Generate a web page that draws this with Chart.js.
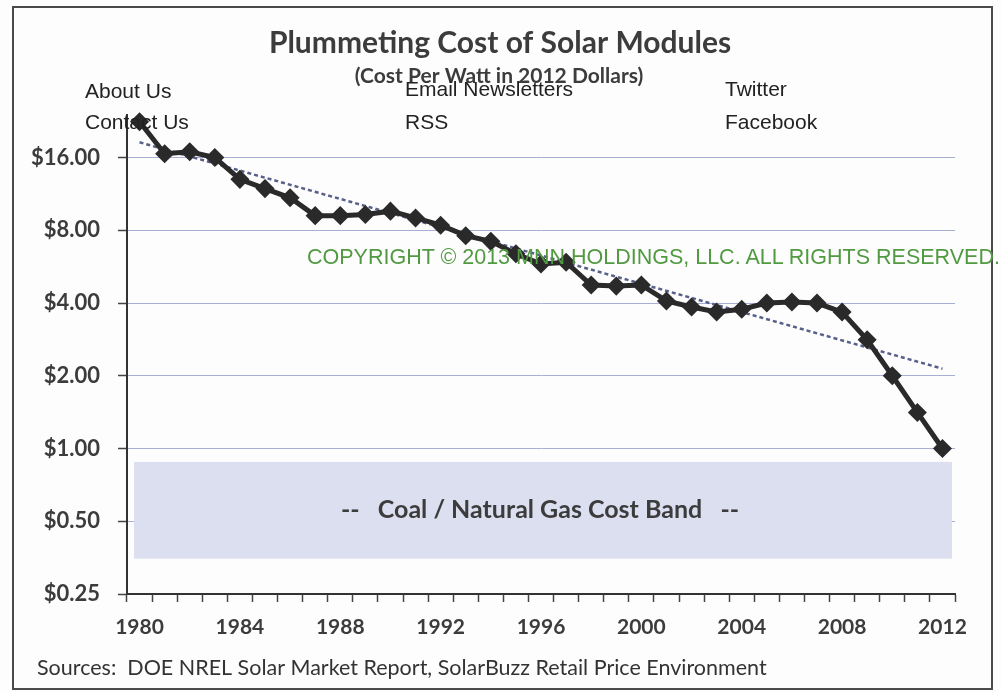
<!DOCTYPE html>
<html>
<head>
<meta charset="utf-8">
<title>Plummeting Cost of Solar Modules</title>
<script src="https://cdn.jsdelivr.net/npm/chart.js@4/dist/chart.umd.min.js"></script>
<style>
  body { margin: 0; background: #fff; }
  #wrap { position: relative; width: 1001px; height: 692px; background: #fdfdfd; }
  #chart { position: absolute; left: 0; top: 0; }
  .frame { position: absolute; left: 12px; top: 6px; width: 981px; height: 684px; border: 2px solid #4a4a4a; box-sizing: border-box; pointer-events: none; }
  .lnk { position: absolute; font: 21px "Liberation Sans", Arial, sans-serif; line-height: 1; color: #222; white-space: nowrap; }
  .copy { color: #519a42; font-size: 21.5px; }
</style>
</head>
<body>
<div id="wrap">
  <canvas id="chart" width="1001" height="692"></canvas>
  <div class="frame"></div>
  <div class="lnk" style="left:85px;top:80px">About Us</div>
  <div class="lnk" style="left:85px;top:111px">Contact Us</div>
  <div class="lnk" style="left:405px;top:78px">Email Newsletters</div>
  <div class="lnk" style="left:405px;top:111px">RSS</div>
  <div class="lnk" style="left:725px;top:78px">Twitter</div>
  <div class="lnk" style="left:725px;top:111px">Facebook</div>
  <div class="lnk copy" style="left:307px;top:247px">COPYRIGHT © 2013 MNN HOLDINGS, LLC. ALL RIGHTS RESERVED.</div>
</div>
<script>
// data
const years = ['1980','1981','1982','1983','1984','1985','1986','1987','1988','1989','1990',
  '1991','1992','1993','1994','1995','1996','1997','1998','1999','2000',
  '2001','2002','2003','2004','2005','2006','2007','2008','2009','2010','2011','2012'];
const costs = [22.5, 16.6, 16.9, 16.0, 13.0, 11.9, 10.9, 9.2, 9.2, 9.3, 9.6,
  9.0, 8.4, 7.6, 7.2, 6.4, 5.8, 5.9, 4.75, 4.7, 4.75,
  4.08, 3.85, 3.67, 3.77, 4.0, 4.04, 4.0, 3.67, 2.82, 2.0, 1.41, 1.0];
const trendYears = ['1980', '2012'];
const trendValues = [18.5, 2.14];
const yTicks = [0.25, 0.5, 1, 2, 4, 8, 16];
const labelEvery = 4;
const bandLow = 0.35;
const bandHigh = 0.88;
const bandLabel = '--   Coal / Natural Gas Cost Band   --';

const titleText = 'Plummeting Cost of Solar Modules';
const subtitleText = '(Cost Per Watt in 2012 Dollars)';
const sourcesText = 'Sources:  DOE NREL Solar Market Report, SolarBuzz Retail Price Environment';

const ink = '#3c3c3c';

const extras = {
  id: 'extras',
  beforeDatasetsDraw(chart) {
    const { ctx, chartArea, scales: { y } } = chart;
    const top = y.getPixelForValue(bandHigh);
    const bot = y.getPixelForValue(bandLow);
    ctx.save();
    ctx.fillStyle = '#dcdff0';
    ctx.fillRect(chartArea.left + 7, top, chartArea.right - chartArea.left - 10, bot - top);
    ctx.fillStyle = ink;
    ctx.font = 'bold 25px Lato';
    ctx.textAlign = 'center';
    ctx.textBaseline = 'middle';
    ctx.fillText(bandLabel, 540, (top + bot) / 2);
    ctx.restore();
  },
  afterDraw(chart) {
    const ctx = chart.ctx;
    ctx.save();
    ctx.fillStyle = ink;
    ctx.textAlign = 'center';
    ctx.textBaseline = 'middle';
    ctx.font = 'bold 30px Lato';
    ctx.fillText(titleText, 500, 43);
    ctx.font = 'bold 21px Lato';
    ctx.fillText(subtitleText, 499, 76);
    ctx.textAlign = 'left';
    ctx.font = '21.5px Lato';
    ctx.fillStyle = '#333';
    ctx.fillText(sourcesText, 37, 668);
    ctx.restore();
  }
};

new Chart(document.getElementById('chart'), {
  type: 'line',
  data: {
    labels: years,
    datasets: [
      {
        label: 'Cost per watt',
        data: costs,
        borderColor: '#2a2a2a',
        backgroundColor: '#2a2a2a',
        borderWidth: 5,
        pointStyle: 'rectRot',
        pointRadius: 6,
        tension: 0,
        clip: false,
        order: 1
      },
      {
        label: 'Trend',
        data: trendYears.map((yr, i) => ({ x: yr, y: trendValues[i] })),
        borderColor: '#58608a',
        borderWidth: 2.5,
        borderDash: [4, 3],
        pointRadius: 0,
        clip: false,
        order: 2
      }
    ]
  },
  options: {
    responsive: false,
    animation: false,
    devicePixelRatio: 1,
    layout: { padding: { left: 12, right: 46, top: 115, bottom: 48 } },
    plugins: { legend: { display: false }, tooltip: { enabled: false } },
    scales: {
      x: {
        type: 'category',
        offset: true,
        afterFit: s => { s.height = 50; },
        border: { color: '#333', width: 2 },
        grid: { offset: true, drawOnChartArea: false, tickLength: 8, tickColor: '#444', tickWidth: 1.5 },
        ticks: {
          autoSkip: false, maxRotation: 0, padding: 13,
          color: ink, font: { family: 'Lato', weight: 'bold', size: 21 },
          callback: (v, i) => (i % labelEvery === 0 ? years[i] : '')
        }
      },
      y: {
        type: 'logarithmic',
        min: 0.25,
        max: 24,
        afterFit: s => { s.width = 115; },
        afterBuildTicks: s => { s.ticks = yTicks.map(v => ({ value: v })); },
        border: { color: '#333', width: 2 },
        grid: { color: '#a7b0d4', lineWidth: 1, tickLength: 9, tickColor: '#444', tickWidth: 1.5 },
        ticks: {
          padding: 18, color: ink,
          font: { family: 'Lato', weight: 'bold', size: 22 },
          callback: v => '$' + Number(v).toFixed(2)
        }
      }
    }
  },
  plugins: [extras]
});
</script>
</body>
</html>
